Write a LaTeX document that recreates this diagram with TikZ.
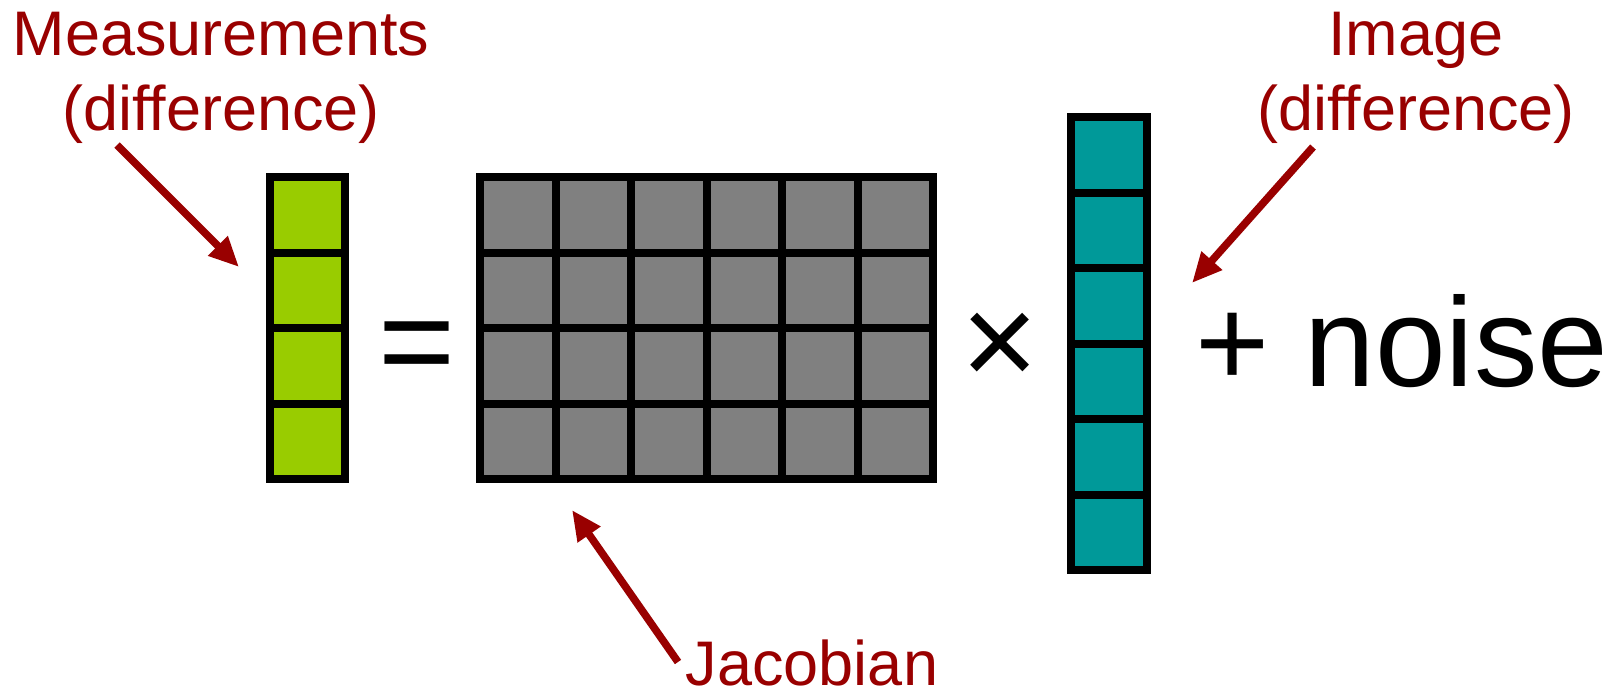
\documentclass[tikz,border=0pt]{standalone}
\usepackage{fontspec}
\setmainfont{Liberation Sans}
\usepackage{xcolor}
\usetikzlibrary{arrows.meta, positioning}

\definecolor{measgreen}{HTML}{99CC00}
\definecolor{jacgray}{HTML}{808080}
\definecolor{imgteal}{HTML}{009999}
\definecolor{tagred}{HTML}{990000}

\begin{document}
\begin{tikzpicture}[x=0.5pt, y=-0.5pt,
    cell/.style={draw=black, line width=4pt, minimum size=37.75pt, inner sep=0pt, outer sep=0pt},
    redtag/.style={text=tagred, font=\fontsize{31.5}{37.5}\selectfont, align=center, inner sep=0pt},
    op/.style={font=\fontsize{66}{79}\selectfont, inner sep=0pt, anchor=base},
    pointer/.style={-{Triangle[length=15pt, width=13pt]}, color=tagred, line width=3.8pt}]
    \useasboundingbox (0,0) rectangle (1618,693);

    % measurements, jacobian
    \foreach \r in {1,...,4} {
        \node[cell, fill=measgreen] (y\r) at (307.5, 139.25+75.5*\r) {};
        \foreach \c in {1,...,6}
            \node[cell, fill=jacgray] (J\r\c) at (442.25+75.5*\c, 139.25+75.5*\r) {};
    }
    % image
    \foreach \r in {1,...,6}
        \node[cell, fill=imgteal] (x\r) at (1108.75, 79.25+75.5*\r) {};

    \node[op] (eq) at (417,386) {=};
    \node[op] (times) at (1000,386) {×};
    \node[op, anchor=base west, font=\fontsize{63.5}{76}\selectfont] (noise) at (1195,386) {+ noise};

    % base anchor sits on the last line
    \node[redtag, anchor=base] (meas) at (221,130) {Measurements\\(difference)};
    \node[redtag, anchor=base] (img) at (1416,130) {Image\\(difference)};
    \node[redtag, anchor=base] (jac) at (812,685) {Jacobian};

    \coordinate (measTail) at (117,145);
    \coordinate (measTip) at (239,267);
    \coordinate (imgTail) at (1313,147);
    \coordinate (imgTip) at (1192,283);
    \coordinate (jacTail) at (678,662);
    \coordinate (jacTip) at (572,510);

    \path[pointer]
        (measTail) edge (measTip)
        (imgTail) edge (imgTip)
        (jacTail) edge (jacTip);
\end{tikzpicture}
\end{document}
